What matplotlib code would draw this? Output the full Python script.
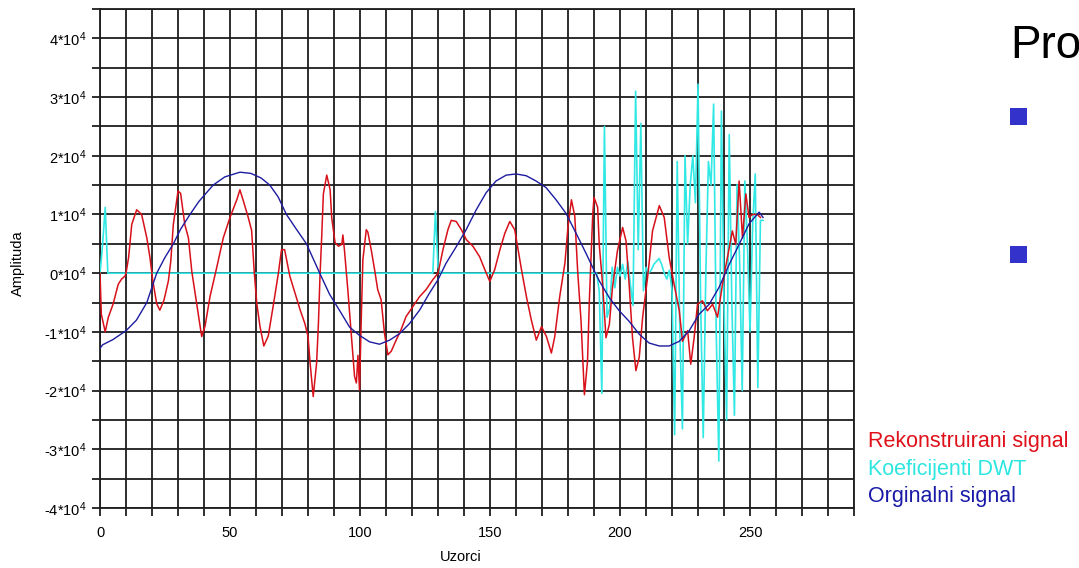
import numpy as np
import matplotlib
matplotlib.use("Agg")
import matplotlib.pyplot as plt
from matplotlib.patches import Rectangle
from matplotlib.ticker import FixedLocator, FuncFormatter, MultipleLocator

plt.rcParams['font.family'] = ['Liberation Sans', 'DejaVu Sans']
plt.rcParams['mathtext.fontset'] = 'custom'
plt.rcParams['mathtext.rm'] = 'Liberation Sans'
plt.rcParams['mathtext.default'] = 'regular'

# amplitudes in units of 10^4
scale = 1e4

# Rekonstruirani signal (red)
red_x = [0, 0.5, 2, 3.2, 5, 7, 8.3, 9.6, 10, 11, 12.2, 14.1, 16, 18, 19.2, 20.3, 21.8, 23, 24.6,
         26.3, 27.2, 28.2, 30, 31, 32.6, 34, 35.3, 37.2, 39.1, 40.4, 42.3, 44.9, 47.4, 50, 52.6,
         53.8, 55, 57, 58.3, 59.3, 60.3, 61.5, 63, 64.7, 66.6, 68.6, 69.8, 71, 73, 75, 77, 78.8,
         80, 80.8, 82, 83.3, 84, 84.6, 85.3, 85.9, 87.2, 88.5, 89.1, 90.4, 91.7, 93, 93.4, 94,
         95.3, 96.6, 97.9, 98.6, 99.2, 99.8, 100.5, 101.1, 102.4, 103, 104.3, 105.6, 106.8,
         108.1, 109.4, 110.7, 112, 113.9, 115.8, 117.7, 120.3, 122.9, 125.4, 128, 130, 131.9,
         133.8, 135.1, 137, 139, 140.9, 143.4, 146, 148, 149.9, 151.8, 153.8, 155.7, 157.6,
         159.5, 160.8, 162.1, 164, 165.9, 167.8, 169.8, 171.7, 173.6, 174.9, 176.8, 178.8, 180,
         181.3, 182.6, 183.7, 185, 186.3, 187.5, 188.2, 189.5, 190, 191.4, 192, 193.3, 194.6,
         195.9, 197.1, 199, 201, 202.3, 203.5, 204.8, 206.1, 207.4, 208.7, 210.6, 212.5, 215.1,
         217, 218.9, 220.8, 222.8, 224, 226, 227.2, 228.5, 229.8, 231.7, 233.6, 235.6, 237.5,
         239.4, 241.3, 243.2, 244.5, 245.8, 247.1, 248.4, 249.6, 250.9, 252.8, 254]
red_y = [0.0, -0.7, -1.0, -0.75, -0.53, -0.19, -0.1, -0.05, 0.0, 0.27, 0.83, 1.08, 1.0, 0.6, 0.27,
         -0.13, -0.52, -0.63, -0.46, -0.13, 0.2, 0.83, 1.4, 1.36, 0.83, 0.6, 0.03, -0.52, -1.08,
         -0.9, -0.4, 0.1, 0.6, 0.95, 1.25, 1.42, 1.25, 0.95, 0.73, 0.03, -0.52, -0.9, -1.24,
         -1.07, -0.56, 0.0, 0.4, 0.4, -0.05, -0.34, -0.63, -0.86, -1.08, -1.53, -2.1, -1.53,
         -0.86, -0.05, 0.66, 1.35, 1.67, 1.42, 0.95, 0.52, 0.46, 0.49, 0.65, 0.4, -0.28, -1.02,
         -1.76, -1.87, -1.4, -1.99, -0.74, 0.23, 0.74, 0.7, 0.4, 0.06, -0.28, -0.45, -1.02,
         -1.39, -1.33, -1.14, -0.96, -0.74, -0.57, -0.4, -0.28, -0.11, 0.0, 0.4, 0.74, 0.9,
         0.88, 0.74, 0.57, 0.46, 0.28, 0.06, -0.14, 0.06, 0.4, 0.68, 0.88, 0.74, 0.4, 0.06,
         -0.4, -0.8, -1.14, -0.91, -1.08, -1.36, -1.08, -0.4, 0.17, 0.8, 1.25, 0.97, 0.04,
         -0.81, -2.07, -1.5, -0.47, 1.0, 1.29, 1.12, 0.49, -0.19, -1.1, -0.87, -0.24, 0.38,
         0.78, 0.55, -0.19, -1.1, -1.66, -1.43, -0.75, -0.07, 0.72, 1.15, 0.95, 0.27, -0.19,
         -0.64, -1.16, -0.98, -1.55, -1.1, -0.53, -0.47, -0.64, -0.53, -0.75, -0.19, 0.27,
         0.72, 0.49, 1.57, 0.6, 1.35, 0.95, 1.0, 1.0, 0.95]

# Koeficijenti DWT (cyan)
cyan_x = [0, 1, 2, 3, 4, 128, 129, 130, 131, 186, 191, 192, 193, 194, 195, 196, 197, 198, 199,
          200, 201, 202, 203, 204, 205, 206, 207, 208, 209, 210, 211, 212, 213, 214, 215, 216,
          217, 218, 219, 220, 221, 222, 223, 224, 225, 226, 227, 228, 229, 230, 231, 232, 233,
          234, 235, 236, 237, 238, 239, 240, 241, 242, 243, 244, 245, 246, 247, 248, 249, 250,
          251, 252, 253, 254, 255]
cyan_y = [0.0, 0.5, 1.12, 0.0, 0.0, 0.0, 1.05, 0.1, 0.0, 0.0, 0.0, -0.3, -2.05, 2.5, -0.75,
          -0.6, 0.1, -0.25, 0.1, -0.05, 0.15, -0.1, 0.2, -0.2, -0.55, 3.1, 0.4, 2.55, -0.3, 0.1,
          0.0, 0.05, 0.15, 0.2, 0.25, 0.15, 0.0, -0.1, 0.05, -0.3, -2.75, 1.9, -1.0, -2.65, 2.0,
          0.5, 1.5, 2.0, 1.2, 3.22, -0.5, -2.8, 0.0, 1.9, 1.5, 2.88, -1.0, -3.2, 2.76, -0.5,
          -2.5, 2.36, -0.5, -2.42, 1.51, 0.2, -2.0, 1.57, 0.5, -1.0, 0.8, 1.69, -1.95, 0.9, 0.9]

# Orginalni signal (blue)
blue_x = [0, 1, 5, 10, 14, 18, 21.8, 25, 28.2, 31, 34.6, 38, 43.5, 48, 53.8, 58, 62, 65.3, 68.5,
          71.7, 75.5, 79.4, 84.5, 88.3, 92.2, 96, 99.8, 103.7, 107.5, 111.4, 115.2, 119, 122.9,
          126.7, 130, 133.1, 137, 140.8, 144.7, 148.5, 152.3, 156.2, 160, 163.9, 167.7, 171.5,
          175.4, 179.2, 183.1, 186.9, 190, 192, 195.9, 199.7, 203.5, 207.4, 211.2, 215.1, 218.9,
          222.8, 226.6, 230.4, 234.3, 238.1, 242, 245.8, 249.6, 253.5, 255]
blue_y = [-1.28, -1.22, -1.13, -0.98, -0.8, -0.5, 0.0, 0.27, 0.5, 0.75, 1.0, 1.22, 1.5, 1.64, 1.72,
          1.7, 1.62, 1.5, 1.3, 1.0, 0.75, 0.5, 0.0, -0.36, -0.64, -0.92, -1.06, -1.17, -1.21,
          -1.14, -1.03, -0.86, -0.63, -0.34, -0.11, 0.17, 0.45, 0.74, 1.08, 1.37, 1.57, 1.67,
          1.69, 1.66, 1.57, 1.46, 1.25, 1.02, 0.68, 0.34, 0.05, -0.13, -0.42, -0.64, -0.82,
          -1.04, -1.19, -1.24, -1.24, -1.16, -0.98, -0.7, -0.53, -0.24, 0.15, 0.49, 0.84, 1.04,
          0.95]

series_names = ['Rekonstruirani signal', 'Koeficijenti DWT', 'Orginalni signal']
series_colors = ['#e0101a', '#2ee6e0', '#1a1aa8']
y_ticks = [-4, -3, -2, -1, 0, 1, 2, 3, 4]
x_ticks = [0, 50, 100, 150, 200, 250]

fig = plt.figure(figsize=(10.79, 5.68), dpi=100)
ax = fig.add_axes([0.0927, 0.1056, 0.6988, 0.8786])

ax.plot(cyan_x, np.array(cyan_y) * scale, color='#30e8e4', lw=1.2, zorder=3)
ax.plot(red_x, np.array(red_y) * scale, color='#d8101a', lw=1.1, zorder=4)
ax.plot(blue_x, np.array(blue_y) * scale, color='#1c1ca0', lw=1.0, zorder=5)

ax.set_xlim(0, 290)
ax.set_ylim(-4 * scale, 4.5 * scale)
ax.xaxis.set_major_locator(FixedLocator(x_ticks))
ax.xaxis.set_minor_locator(MultipleLocator(10))
ax.yaxis.set_major_locator(FixedLocator([t * scale for t in y_ticks]))
ax.yaxis.set_minor_locator(MultipleLocator(0.5 * scale))
ax.yaxis.set_major_formatter(FuncFormatter(lambda v, p: '%d*10$^{4}$' % round(v / scale)))
ax.grid(True, which='both', color='#1e1e1e', lw=1.3)
ax.set_axisbelow(True)
ax.tick_params(which='both', direction='out', length=6, width=1.3, color='#1e1e1e',
               labelsize=10.5)
ax.tick_params(axis='x', pad=7)
ax.tick_params(axis='y', pad=4)
for s in ax.spines.values():
    s.set_color('#1e1e1e')
    s.set_linewidth(1.3)

ax.set_xlabel('Uzorci', fontsize=10.5)
ax.set_ylabel('Amplituda', fontsize=10.5)
ax.xaxis.set_label_coords(0.479, -0.085)
ax.yaxis.set_label_coords(-0.1, 0.49)

# legend text on the right
for i, (name, col) in enumerate(zip(series_names, series_colors)):
    fig.text(868 / 1079, 1 - (447 + 27.5 * i) / 568, name, color=col, fontsize=15.5,
             ha='left', va='baseline')

# slide text behind the chart
fig.text(1010 / 1079, 1 - 58 / 568, 'Pro', fontsize=33, color='black', ha='left', va='baseline')
for top in [108, 246]:
    fig.patches.append(Rectangle((1010 / 1079, 1 - (top + 17) / 568), 17 / 1079, 17 / 568,
                                 transform=fig.transFigure, color='#3333cc', lw=0))

fig.savefig('out.png', dpi=100)
